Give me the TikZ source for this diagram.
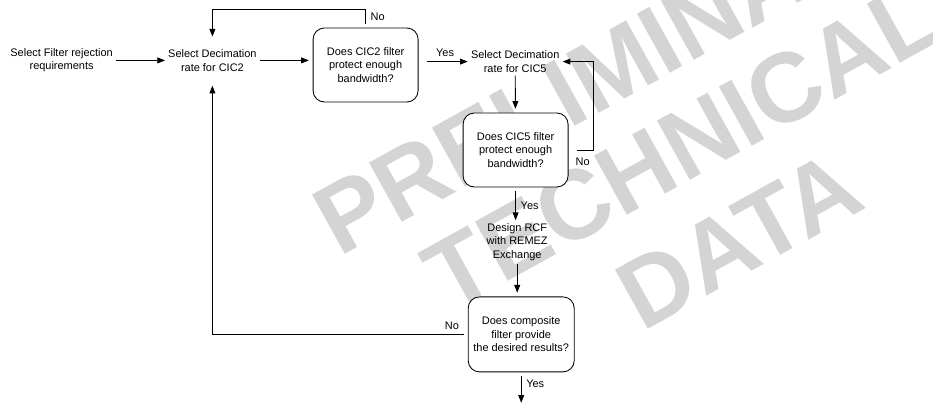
\documentclass[tikz,border=0pt]{standalone}
\usepackage{fontspec}
\setmainfont{Liberation Sans}
\usetikzlibrary{arrows.meta}
\begin{document}
\begin{tikzpicture}[font=\fontsize{7.8}{9.6}\selectfont, >={Triangle[length=5.5pt,width=4.2pt]}, line width=0.6pt,
  txt/.style={align=center, inner sep=2pt},
  chk/.style={draw, rounded corners=8pt, fill=white, align=center,
    minimum width=2.625cm, minimum height=1.85cm, outer sep=3pt},
  wmark/.style={black!17, font=\fontsize{70}{80}\selectfont\bfseries, rotate=29}]
  \useasboundingbox (0,0) rectangle (23.325,10.1);

  % watermark
  \begin{scope}
    \clip (0,0) rectangle (23.325,10.1);
    \node (wm1) at (15.45,8.5) [wmark] {PRELIMINARY};
    \node (wm2) at (17.05,6.45) [wmark] {TECHNICAL};
    \node (wm3) at (18.475,4.1) [wmark] {DATA};
  \end{scope}

  % first row
  \node (req) at (1.54,8.59) [txt] {Select Filter rejection\\requirements};
  \node (sel2) at (5.31,8.59) [txt] {Select Decimation\\rate for CIC2};
  \node (chk2) at (9.14,8.475) [chk] {Does CIC2 filter\\protect enough\\bandwidth?};
  \node (sel5) at (12.88,8.56) [txt] {Select Decimation\\rate for CIC5};

  % column
  \node (chk5) at (12.89,6.35) [chk] {Does CIC5 filter\\protect enough\\bandwidth?};
  \node (rcf) at (12.93,4.05) [txt] {Design RCF\\with REMEZ\\Exchange};
  \node (chk3) at (13.03,1.74) [chk, minimum width=2.65cm, minimum height=1.875cm]
    {Does composite\\filter provide\\the desired results?};
  \coordinate (done) at (13.03,0.03);

  % arrows
  \draw[->] (req) -- (sel2);
  \draw[->] (sel2.east) -- (sel2.east -| chk2.west);
  \draw[->, shorten <=3pt] (chk2.east |- sel5.west) -- (sel5.west) node[midway, above] {Yes};
  \draw[->] (sel5) -- (chk5);
  \draw[->] (chk5.south) -- (chk5.south |- rcf.north) node[midway, right] {Yes};
  \draw[->] (rcf.south) -- (rcf.south |- chk3.north);
  \draw[->] (chk3) -- (done) node[pos=0.3, right] {Yes};

  % No loops
  \draw[->] (chk2.north) -- ++(0,0.37) node[midway, right] {No} -| ([yshift=7pt]sel2.north);
  \draw[->, shorten <=3pt] (chk5.east) -- ++(0.52,0) node[midway, below=2pt] {No} |- (sel5.east);
  \draw[->] (chk3.west) -| ([yshift=-8pt]sel2.south) node[pos=0, above left] {No};
\end{tikzpicture}
\end{document}
